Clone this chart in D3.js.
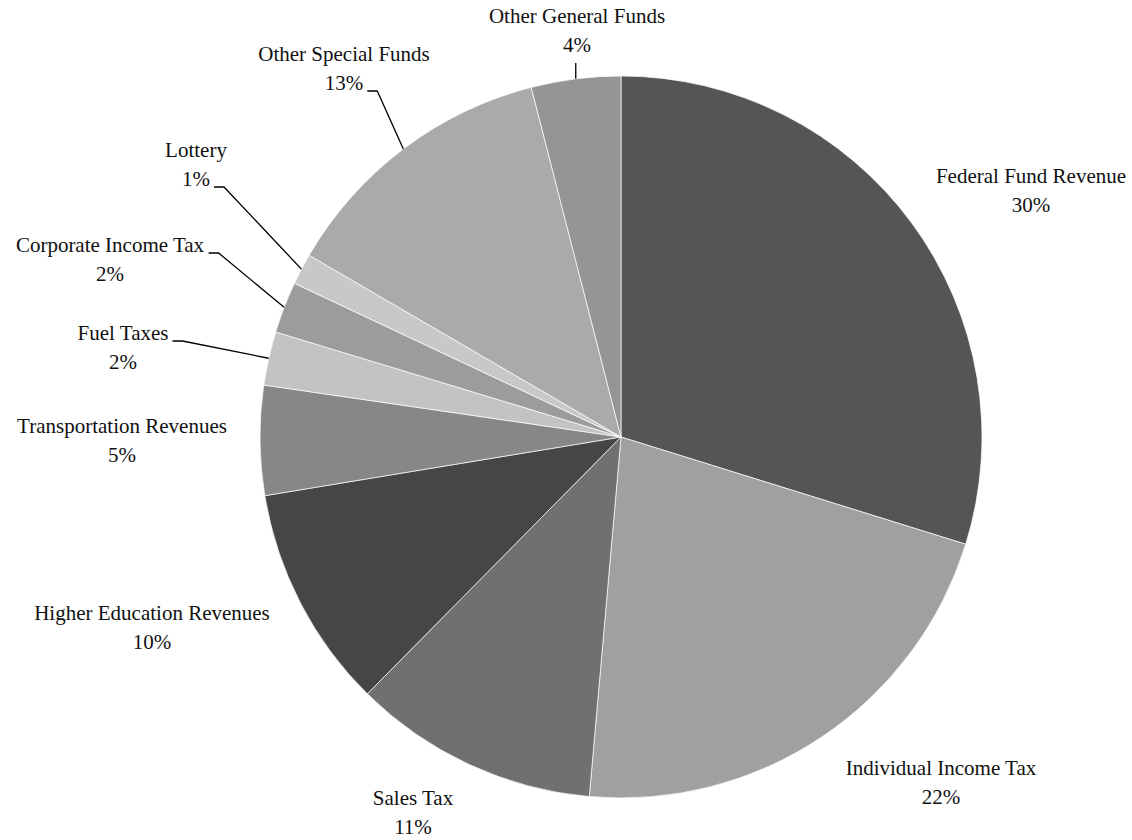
<!DOCTYPE html>
<html>
<head>
<meta charset="utf-8">
<script src="https://cdn.jsdelivr.net/npm/d3@7"></script>
<style>
  body { margin: 0; background: #fff; }
  text { font-family: "Liberation Serif", "DejaVu Serif", serif; font-size: 21px; fill: #111; }
</style>
</head>
<body>
<script>
// revenue categories, clockwise from 12 o'clock
var categories = ["Federal Fund Revenue", "Individual Income Tax", "Sales Tax",
    "Higher Education Revenues", "Transportation Revenues", "Fuel Taxes",
    "Corporate Income Tax", "Lottery", "Other Special Funds", "Other General Funds"];
var shares = [29.8, 21.6, 11.0, 10.0, 4.9, 2.4, 2.3, 1.4, 12.6, 4.0];
var greys = ["#555555", "#a0a0a0", "#707070", "#464646", "#878787",
    "#c3c3c3", "#9c9c9c", "#c8c8c8", "#aaaaaa", "#959595"];

// label placement (name baseline relative to pie centre) and leader style
var labelX = [410, 320, -208, -469, -499, -498, -511, -425, -277, -44];
var labelY = [-254, 338, 368, 183, -4, -97, -185, -280, -376, -414];
var leader = [null, null, null, null, null, "name", "name", "pct", "pct", "below"];

var width = 1132, height = 840;
var cx = 621, cy = 437, radius = 361;

var svg = d3.select("body").append("svg")
    .attr("width", width)
    .attr("height", height);

var g = svg.append("g")
    .attr("transform", "translate(" + cx + "," + cy + ")");

var total = d3.sum(shares);
var pie = d3.pie().sort(null).value(function(d) { return d; });
var arc = d3.arc().innerRadius(0).outerRadius(radius);
var arcs = pie(shares);

// slices
g.selectAll(".slice")
    .data(arcs)
    .enter()
    .append("path")
        .attr("class", "slice")
        .attr("d", arc)
        .attr("fill", function(d, i) { return greys[i]; })
        .attr("stroke", "#fff")
        .attr("stroke-width", 0.7);

// labels
arcs.forEach(function(d, i) {
    var lab = g.append("g");
    var name = lab.append("text")
        .attr("x", labelX[i])
        .attr("y", labelY[i])
        .attr("text-anchor", "middle")
        .text(categories[i]);
    var pct = lab.append("text")
        .attr("x", labelX[i])
        .attr("y", labelY[i] + 29)
        .attr("text-anchor", "middle")
        .text(Math.round(shares[i] / total * 100) + "%");

    if (!leader[i]) return;

    // point on the rim at the middle of the slice
    var mid = (d.startAngle + d.endAngle) / 2;
    var ex = radius * Math.sin(mid);
    var ey = -radius * Math.cos(mid);
    var pts;

    if (leader[i] == "below") {
        pts = [[ex, labelY[i] + 40], [ex, ey]];
    } else {
        var t = leader[i] == "name" ? name : pct;
        var bb = t.node().getBBox();
        var ly = (leader[i] == "name" ? labelY[i] : labelY[i] + 29) + 1;
        var sx = bb.x + bb.width + 4;
        pts = [[sx, ly], [sx + 10, ly], [ex, ey]];
    }

    g.append("path")
        .attr("d", d3.line()(pts))
        .attr("fill", "none")
        .attr("stroke", "#000")
        .attr("stroke-width", 1.3);
});
</script>
</body>
</html>
